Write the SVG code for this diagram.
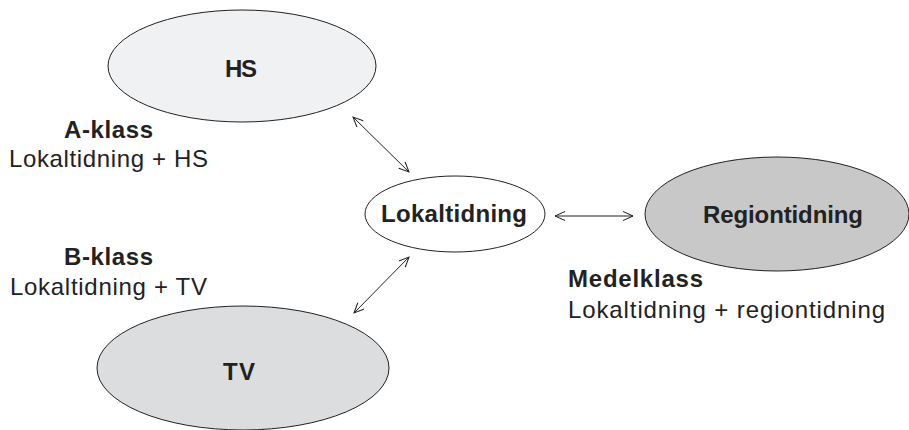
<svg xmlns="http://www.w3.org/2000/svg" width="909" height="430" viewBox="0 0 909 430">
<style>
.n{stroke:#222;stroke-width:1}
.t{font-family:"Liberation Sans",Arial,sans-serif;font-size:24px;fill:#222}
.b{font-weight:bold}
.c{stroke:#222;stroke-width:1;fill:none;marker-start:url(#ah);marker-end:url(#ah)}
</style>
<defs>
<marker id="ah" viewBox="0 0 12 10" refX="11" refY="5" markerWidth="12" markerHeight="10" markerUnits="userSpaceOnUse" orient="auto-start-reverse">
<path d="M1,0.5 L11,5 L1,9.5" fill="none" stroke="#222" stroke-width="1"/>
</marker>
</defs>
<rect width="909" height="430" fill="#fff"/>
<g id="connectors">
<line class="c" x1="353" y1="117" x2="409" y2="172"/>
<line class="c" x1="354" y1="313" x2="409" y2="257"/>
<line class="c" x1="555" y1="216" x2="633" y2="216"/>
</g>
<g id="node-hs">
<ellipse class="n" cx="242" cy="66" rx="134" ry="56" fill="#f0f1f2"/>
<text class="t b" x="241" y="77" text-anchor="middle" textLength="32">HS</text>
</g>
<g id="node-lokaltidning">
<ellipse class="n" cx="455" cy="214" rx="90" ry="38" fill="#fff"/>
<text class="t b" x="454" y="222" text-anchor="middle" textLength="146">Lokaltidning</text>
</g>
<g id="node-regiontidning">
<ellipse class="n" cx="777" cy="214" rx="132" ry="57" fill="#c8c8c8"/>
<text class="t b" x="783" y="223" text-anchor="middle" textLength="160">Regiontidning</text>
</g>
<g id="node-tv">
<ellipse class="n" cx="243" cy="368" rx="146" ry="62" fill="#dcdddf"/>
<text class="t b" x="239" y="380" text-anchor="middle" textLength="32">TV</text>
</g>
<g id="labels">
<text class="t b" x="108.5" y="138" text-anchor="middle" textLength="89">A-klass</text>
<text class="t" x="9" y="167" textLength="199">Lokaltidning + HS</text>
<text class="t b" x="108.5" y="265" text-anchor="middle" textLength="89">B-klass</text>
<text class="t" x="10" y="295" textLength="197">Lokaltidning + TV</text>
<text class="t b" x="568" y="287" textLength="135">Medelklass</text>
<text class="t" x="568" y="318" textLength="317">Lokaltidning + regiontidning</text>
</g>
</svg>
